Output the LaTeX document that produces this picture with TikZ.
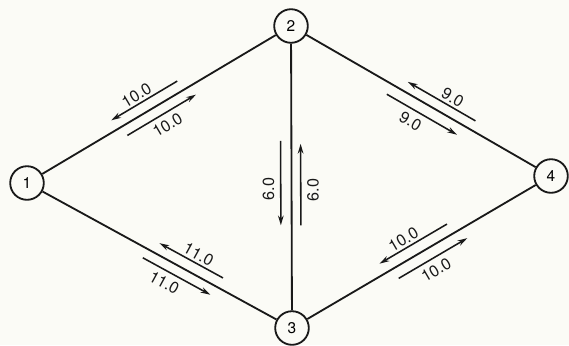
\documentclass[tikz,border=0pt]{standalone}
\usepackage{fontspec}
\newfontfamily\numfont{TeX Gyre Heros}
\usetikzlibrary{arrows.meta,calc}
\definecolor{paper}{RGB}{251,251,246}
\definecolor{ink}{RGB}{25,25,25}

\begin{document}
\begin{tikzpicture}[
    x=0.025cm, y=-0.025cm,
    station/.style={circle, draw=ink, line width=1.3pt, fill=paper, minimum size=0.84cm, inner sep=0pt, font=\numfont\fontsize{11}{12}\selectfont},
    link/.style={draw=ink, line width=1.3pt},
    flow/.style={draw=ink, line width=1.1pt, >={Stealth[length=7pt,width=4pt]}},
    amount/.style={font=\numfont\fontsize{11.5}{12}\selectfont, text=ink, inner sep=1.5pt, sloped},
    vamount/.style={font=\numfont\fontsize{11.5}{12}\selectfont, text=ink, inner sep=4pt, rotate=90}
]
\fill[paper] (0,0) rectangle (569,345);
\useasboundingbox (0,0) rectangle (569,345);

% Stations
\node[station] (n1) at (27,183) {1};
\node[station] (n2) at (291,26) {2};
\node[station] (n3) at (292,328) {3};
\node[station] (n4) at (551,176) {4};

% Links
\draw[link] (n1) -- (n2);
\draw[link] (n1) -- (n3);
\draw[link] (n2) -- (n3);
\draw[link] (n2) -- (n4);
\draw[link] (n3) -- (n4);

% Flow ends
\coordinate (b12s) at ($(n1)!0.34!(n2)!0.27cm!90:(n2)$);
\coordinate (b12e) at ($(n1)!0.59!(n2)!0.27cm!90:(n2)$);
\coordinate (f12s) at ($(n1)!0.36!(n2)!0.26cm!-90:(n2)$);
\coordinate (f12e) at ($(n1)!0.62!(n2)!0.26cm!-90:(n2)$);

\coordinate (b13s) at ($(n1)!0.48!(n3)!0.27cm!90:(n3)$);
\coordinate (b13e) at ($(n1)!0.72!(n3)!0.27cm!90:(n3)$);
\coordinate (f13s) at ($(n1)!0.455!(n3)!0.25cm!-90:(n3)$);
\coordinate (f13e) at ($(n1)!0.71!(n3)!0.25cm!-90:(n3)$);

\coordinate (b24s) at ($(n2)!0.43!(n4)!0.25cm!90:(n4)$);
\coordinate (b24e) at ($(n2)!0.69!(n4)!0.25cm!90:(n4)$);
\coordinate (f24s) at ($(n2)!0.39!(n4)!0.28cm!-90:(n4)$);
\coordinate (f24e) at ($(n2)!0.66!(n4)!0.28cm!-90:(n4)$);

\coordinate (b34s) at ($(n3)!0.36!(n4)!0.28cm!90:(n4)$);
\coordinate (b34e) at ($(n3)!0.62!(n4)!0.28cm!90:(n4)$);
\coordinate (f34s) at ($(n3)!0.39!(n4)!0.28cm!-90:(n4)$);
\coordinate (f34e) at ($(n3)!0.655!(n4)!0.28cm!-90:(n4)$);

\coordinate (b23s) at ($(n2)!0.39!(n3)!0.23cm!90:(n3)$);
\coordinate (b23e) at ($(n2)!0.66!(n3)!0.23cm!90:(n3)$);
\coordinate (f23s) at ($(n2)!0.38!(n3)!0.27cm!-90:(n3)$);
\coordinate (f23e) at ($(n2)!0.66!(n3)!0.27cm!-90:(n3)$);

% Flows
\draw[flow, <-] (b12s) -- node[amount, above, pos=0.45] {10.0} (b12e);
\draw[flow, ->] (f12s) -- node[amount, below=2pt, pos=0.5] {10.0} (f12e);
\draw[flow, <-] (b13s) -- node[amount, above, pos=0.55] {11.0} (b13e);
\draw[flow, ->] (f13s) -- node[amount, below=2pt, pos=0.4] {11.0} (f13e);
\draw[flow, <-] (b24s) -- node[amount, above, pos=0.6] {9.0} (b24e);
\draw[flow, ->] (f24s) -- node[amount, below=2pt, pos=0.42] {9.0} (f24e);
\draw[flow, <-] (b34s) -- node[amount, above, pos=0.42] {10.0} (b34e);
\draw[flow, ->] (f34s) -- node[amount, below=2pt, pos=0.46] {10.0} (f34e);
\draw[flow, ->] (b23e) -- node[vamount, anchor=north, pos=0.43] {6.0} (b23s);
\draw[flow, ->] (f23s) -- node[vamount, anchor=south, pos=0.57] {6.0} (f23e);

\end{tikzpicture}
\end{document}
